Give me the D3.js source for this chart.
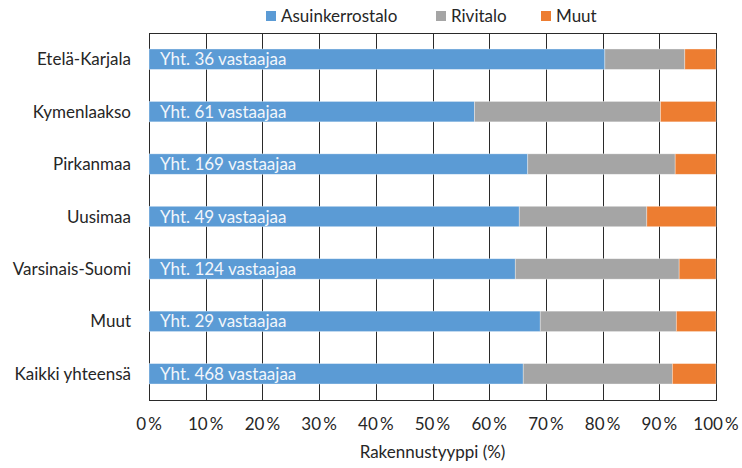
<!DOCTYPE html>
<html>
<head>
    <meta charset="utf-8">
    <script src="https://d3js.org/d3.v7.min.js"></script>
    <style>
        body { margin: 0; background: #fff; }
        svg text { font-family: Lato, "Open Sans", sans-serif; fill: #262626; }
    </style>
</head>
<body>
    <svg id="chart" width="742" height="468"></svg>
    <script>
        // Data (percent shares)
        const regions = ["Etelä-Karjala", "Kymenlaakso", "Pirkanmaa", "Uusimaa", "Varsinais-Suomi", "Muut", "Kaikki yhteensä"];
        const respondents = [36, 61, 169, 49, 124, 29, 468];
        const asuinkerrostalo = [80.4, 57.4, 66.8, 65.3, 64.6, 69.0, 66.0];
        const rivitalo = [14.1, 32.8, 26.0, 22.5, 28.9, 24.0, 26.3];
        const muut = [5.5, 9.8, 7.2, 12.2, 6.5, 7.0, 7.7];
        const seriesNames = ["Asuinkerrostalo", "Rivitalo", "Muut"];
        const seriesColors = ["#5b9bd5", "#a5a5a5", "#ed7d31"];
        const xTicks = [0, 10, 20, 30, 40, 50, 60, 70, 80, 90, 100];

        const svg = d3.select("#chart");
        const margin = { top: 33, right: 26, bottom: 68, left: 149 };
        const width = 742 - margin.left - margin.right,
              height = 468 - margin.top - margin.bottom;

        const rows = regions.map((r, i) => ({
            region: r, n: respondents[i],
            Asuinkerrostalo: asuinkerrostalo[i], Rivitalo: rivitalo[i], Muut: muut[i]
        }));

        const x = d3.scaleLinear().domain([0, 100]).range([0, width]);
        const y = d3.scaleBand().domain(regions).range([0, height]).paddingInner(0.61).paddingOuter(0.305);
        const color = d3.scaleOrdinal().domain(seriesNames).range(seriesColors);

        const g = svg.append("g").attr("transform", `translate(${margin.left},${margin.top})`);

        // gridlines
        g.append("g")
            .selectAll("line")
            .data(xTicks)
            .join("line")
                .attr("x1", d => Math.round(x(d)) + 0.5)
                .attr("x2", d => Math.round(x(d)) + 0.5)
                .attr("y1", 0)
                .attr("y2", height)
                .attr("stroke", "#2a2a2a")
                .attr("stroke-width", 1);

        // plot border
        g.append("rect")
            .attr("x", 0.5).attr("y", 0.5)
            .attr("width", width).attr("height", height)
            .attr("fill", "none")
            .attr("stroke", "#2a2a2a");

        // stacked bars
        const stacked = d3.stack().keys(seriesNames)(rows);
        g.append("g")
            .selectAll("g")
            .data(stacked)
            .join("g")
                .attr("fill", d => color(d.key))
            .selectAll("rect")
            .data(d => d)
            .join("rect")
                .attr("x", d => x(d[0]))
                .attr("y", d => y(d.data.region))
                .attr("width", d => x(d[1]) - x(d[0]))
                .attr("height", y.bandwidth())
                .attr("stroke", "#fff")
                .attr("stroke-opacity", 0.5)
                .attr("stroke-width", 0.7);

        // labels inside bars
        g.append("g")
            .selectAll("text")
            .data(rows)
            .join("text")
                .attr("x", 11)
                .attr("y", d => y(d.region) + y.bandwidth() / 2)
                .attr("dy", "0.36em")
                .style("fill", "#f2f6fb")
                .style("font-size", "17px")
                .text(d => `Yht. ${d.n} vastaajaa`);

        // category labels
        g.append("g")
            .selectAll("text")
            .data(regions)
            .join("text")
                .attr("x", -18)
                .attr("y", d => y(d) + y.bandwidth() / 2)
                .attr("dy", "0.36em")
                .attr("text-anchor", "end")
                .style("font-size", "17px")
                .text(d => d);

        // x axis labels
        g.append("g")
            .selectAll("text")
            .data(xTicks)
            .join("text")
                .attr("x", d => x(d))
                .attr("y", height + 30)
                .attr("text-anchor", "middle")
                .style("font-size", "17px")
                .text(d => d + "\u2009%");

        svg.append("text")
            .attr("x", margin.left + width / 2)
            .attr("y", 458)
            .attr("text-anchor", "middle")
            .style("font-size", "17px")
            .text("Rakennustyyppi (%)");

        // legend
        const legendX = [266, 436, 541];
        const legend = svg.append("g")
            .selectAll("g")
            .data(seriesNames)
            .join("g")
                .attr("transform", (d, i) => `translate(${legendX[i]},16)`);
        legend.append("rect")
            .attr("x", 0).attr("y", -5)
            .attr("width", 10).attr("height", 10)
            .attr("fill", d => color(d));
        legend.append("text")
            .attr("x", 15)
            .attr("dy", "0.36em")
            .style("font-size", "17px")
            .text(d => d);
    </script>
</body>
</html>
